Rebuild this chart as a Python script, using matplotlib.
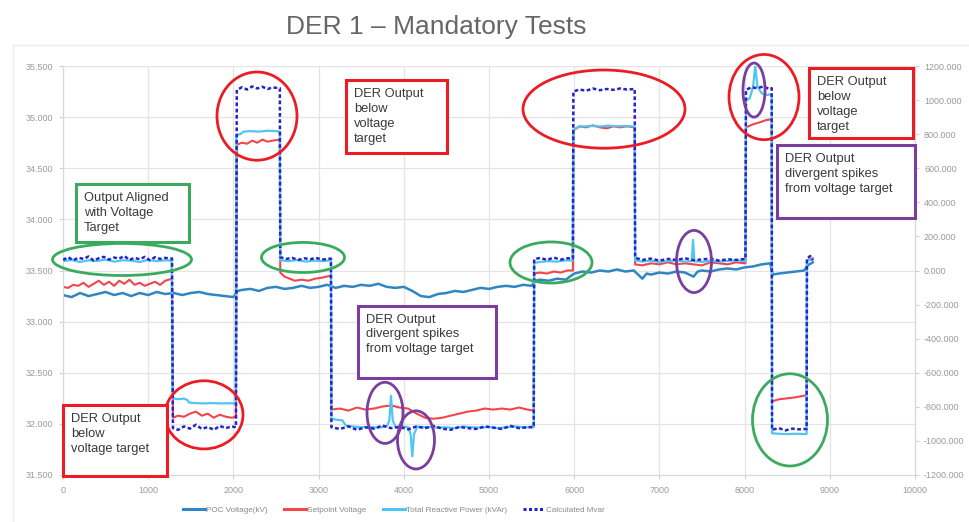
import matplotlib
matplotlib.use("Agg")
import matplotlib.pyplot as plt
from matplotlib.patches import Ellipse, Rectangle
from matplotlib.lines import Line2D

plt.rcParams['font.family'] = ['Liberation Sans', 'DejaVu Sans']

title = "DER 1 \u2013 Mandatory Tests"
series_names = ["POC Voltage(kV)", "Setpoint Voltage", "Total Reactive Power (kVAr)", "Calculated Mvar"]

# ---- POC Voltage (kV), left axis ----
poc_t = [0, 100, 200, 300, 400, 500, 600, 700, 800, 900, 1000, 1100, 1200, 1300, 1400, 1500,
         1600, 1700, 1800, 1900, 2000, 2050, 2100, 2200, 2300, 2400, 2500, 2600, 2700, 2800,
         2900, 3000, 3100, 3200, 3300, 3400, 3500, 3600, 3700, 3800, 3900, 4000, 4100, 4200,
         4300, 4400, 4500, 4600, 4700, 4800, 4900, 5000, 5100, 5200, 5300, 5400, 5500, 5540,
         5600, 5700, 5800, 5900, 6000, 6100, 6200, 6300, 6400, 6500, 6600, 6700, 6750, 6800,
         6850, 6900, 7000, 7100, 7200, 7300, 7400, 7450, 7500, 7600, 7700, 7800, 7900, 8000,
         8100, 8200, 8300, 8330, 8400, 8500, 8600, 8700, 8740, 8800]
poc_v = [33.26, 33.24, 33.28, 33.25, 33.27, 33.29, 33.26, 33.28, 33.25, 33.28, 33.26, 33.29,
         33.27, 33.28, 33.26, 33.28, 33.29, 33.27, 33.26, 33.25, 33.24, 33.30, 33.31, 33.32,
         33.30, 33.33, 33.34, 33.32, 33.33, 33.35, 33.33, 33.34, 33.36, 33.33, 33.35, 33.34,
         33.36, 33.35, 33.37, 33.34, 33.33, 33.34, 33.30, 33.25, 33.24, 33.27, 33.28, 33.30,
         33.29, 33.31, 33.33, 33.32, 33.34, 33.35, 33.34, 33.36, 33.35, 33.40, 33.41, 33.40,
         33.42, 33.41, 33.47, 33.49, 33.48, 33.50, 33.49, 33.51, 33.49, 33.50, 33.46, 33.42,
         33.47, 33.46, 33.48, 33.47, 33.49, 33.48, 33.44, 33.49, 33.50, 33.49, 33.51, 33.52,
         33.51, 33.53, 33.54, 33.56, 33.57, 33.46, 33.47, 33.48, 33.49, 33.50, 33.55, 33.58]

# ---- Setpoint Voltage (kV), left axis ----
sp_t = [0, 60, 120, 180, 240, 300, 360, 420, 480, 540, 600, 660, 720, 780, 840, 900, 960,
        1020, 1080, 1140, 1200, 1280,
        1290, 1350, 1420, 1490, 1560, 1630, 1700, 1770, 1840, 1910, 1980, 2030,
        2040, 2100, 2160, 2220, 2280, 2340, 2400, 2460, 2545,
        2550, 2600, 2660, 2720, 2800, 2880, 2960, 3040, 3145,
        3150, 3250, 3350, 3450, 3550, 3650, 3750, 3850, 3950, 4050, 4150, 4250, 4350, 4450,
        4550, 4650, 4750, 4850, 4950, 5050, 5150, 5250, 5350, 5450, 5525,
        5530, 5600, 5680, 5760, 5840, 5920, 5985,
        5990, 6060, 6140, 6220, 6300, 6380, 6460, 6540, 6620, 6710,
        6715, 6800, 6900, 7000, 7100, 7200, 7300, 7400, 7500, 7600, 7700, 7800, 7900, 8010,
        8016, 8100, 8180, 8250, 8318,
        8322, 8400, 8500, 8600, 8728,
        8732, 8800]
sp_v = [33.34, 33.33, 33.36, 33.35, 33.38, 33.34, 33.37, 33.40, 33.36, 33.39, 33.35, 33.40,
        33.37, 33.41, 33.36, 33.38, 33.35, 33.37, 33.39, 33.36, 33.40, 33.42,
        32.06, 32.08, 32.07, 32.10, 32.12, 32.08, 32.10, 32.06, 32.09, 32.07, 32.06, 32.07,
        34.73, 34.75, 34.74, 34.77, 34.75, 34.78, 34.76, 34.77, 34.78,
        33.48, 33.44, 33.42, 33.40, 33.41, 33.40, 33.42, 33.43, 33.45,
        32.14, 32.15, 32.13, 32.16, 32.14, 32.15, 32.17, 32.18, 32.16, 32.15, 32.10, 32.06,
        32.05, 32.06, 32.08, 32.10, 32.12, 32.13, 32.15, 32.14, 32.15, 32.14, 32.16, 32.14, 32.13,
        33.47, 33.48, 33.47, 33.49, 33.48, 33.50, 33.50,
        34.87, 34.91, 34.90, 34.92, 34.90, 34.89, 34.91, 34.90, 34.91, 34.90,
        33.56, 33.55, 33.57, 33.56, 33.58, 33.56, 33.57, 33.56, 33.55, 33.58, 33.57, 33.56,
        33.58, 33.57,
        34.90, 34.93, 34.95, 34.97, 34.98,
        32.22, 32.24, 32.25, 32.26, 32.28,
        33.60, 33.62]

# ---- Total Reactive Power (kVAr), right axis ----
q_t = [0, 100, 200, 300, 400, 500, 600, 700, 800, 900, 1000, 1100, 1200, 1275,
       1285, 1350, 1420, 1460, 1480, 1550, 1650, 1750, 1850, 1950, 2025,
       2035, 2080, 2120, 2200, 2300, 2400, 2500, 2545,
       2550, 2650, 2750, 2850, 2950, 3050, 3145,
       3150, 3200, 3280, 3320, 3400, 3500, 3600, 3700, 3800, 3830, 3850, 3870, 3900, 3950,
       4000, 4050, 4080, 4100, 4120, 4160, 4200, 4300, 4400, 4500, 4600, 4700, 4800, 4900,
       5000, 5100, 5200, 5300, 5400, 5525,
       5530, 5600, 5700, 5800, 5900, 5980,
       5990, 6040, 6100, 6200, 6300, 6400, 6500, 6600, 6710,
       6715, 6800, 6900, 7000, 7100, 7200, 7300, 7380, 7395, 7410, 7500, 7600, 7700, 7800,
       7900, 8010,
       8016, 8060, 8100, 8125, 8150, 8200, 8260, 8318,
       8322, 8400, 8500, 8600, 8728,
       8732, 8800]
q_v = [55, 62, 50, 60, 56, 64, 52, 60, 58, 50, 62, 55, 60, 58,
       -750, -755, -752, -760, -775, -778, -780, -778, -780, -779, -780,
       795, 800, 815, 818, 815, 820, 818, 815,
       60, 55, 62, 52, 58, 55, 60,
       -870, -875, -880, -910, -915, -920, -918, -922, -915, -880, -735, -880, -915, -920,
       -915, -920, -960, -1090, -960, -915, -920, -918, -922, -920, -925, -915, -920, -922,
       -918, -925, -920, -915, -920, -920,
       45, 50, 55, 52, 60, 58,
       825, 840, 845, 848, 845, 850, 846, 848, 845,
       60, 52, 58, 50, 55, 60, 52, 55, 180, 55, 50, 58, 52, 56, 60, 55,
       1000, 1010, 1080, 1200, 1080, 1040, 1030, 1035,
       -955, -958, -960, -958, -960,
       60, 65]

# ---- Calculated Mvar, right axis ----
m_t = [0, 60, 120, 180, 240, 300, 360, 420, 480, 540, 600, 660, 720, 780, 840, 900, 960,
       1020, 1080, 1140, 1200, 1280,
       1290, 1350, 1420, 1490, 1560, 1630, 1700, 1770, 1840, 1910, 1980, 2030,
       2040, 2100, 2160, 2220, 2280, 2340, 2400, 2460, 2545,
       2550, 2620, 2690, 2760, 2830, 2900, 2970, 3040, 3145,
       3150, 3250, 3350, 3450, 3550, 3650, 3750, 3850, 3950, 4050, 4150, 4250, 4350, 4450,
       4550, 4650, 4750, 4850, 4950, 5050, 5150, 5250, 5350, 5450, 5525,
       5530, 5600, 5680, 5760, 5840, 5920, 5985,
       5990, 6060, 6140, 6220, 6300, 6380, 6460, 6540, 6620, 6710,
       6715, 6800, 6900, 7000, 7100, 7200, 7300, 7400, 7500, 7600, 7700, 7800, 7900, 8010,
       8016, 8080, 8150, 8220, 8290, 8318,
       8322, 8400, 8480, 8560, 8640, 8728,
       8732, 8770, 8800]
m_v = [62, 78, 60, 75, 68, 82, 58, 72, 80, 64, 76, 70, 85, 62, 74, 66, 80, 60, 78, 68, 74, 70,
       -925, -935, -915, -928, -905, -930, -918, -935, -912, -925, -915, -920,
       1060, 1075, 1062, 1080, 1068, 1078, 1065, 1074, 1070,
       78, 68, 74, 62, 72, 66, 74, 64, 70,
       -920, -930, -915, -935, -920, -928, -910, -925, -918, -932, -915, -925, -912, -928,
       -935, -918, -925, -930, -915, -922, -930, -912, -925, -920, -918,
       66, 74, 62, 76, 64, 72, 70,
       1050, 1062, 1055, 1068, 1058, 1065, 1060, 1068, 1062, 1065,
       75, 62, 70, 58, 68, 62, 72, 60, 65, 70, 58, 66, 62, 68,
       1060, 1075, 1070, 1080, 1065, 1070,
       -935, -925, -938, -928, -932, -930,
       70, 85, 60]

x_ticks = [0, 1000, 2000, 3000, 4000, 5000, 6000, 7000, 8000, 9000, 10000]
left_ticks = [31.5, 32.0, 32.5, 33.0, 33.5, 34.0, 34.5, 35.0, 35.5]
right_ticks = [-1200, -1000, -800, -600, -400, -200, 0, 200, 400, 600, 800, 1000, 1200]

# ---- annotation texts ----
note_aligned = "Output Aligned\nwith Voltage\nTarget"
note_below1 = "DER Output\nbelow\nvoltage target"
note_below2 = "DER Output\nbelow\nvoltage\ntarget"
note_spikes = "DER Output\ndivergent spikes\nfrom voltage target"

C_POC = '#2f86c3'
C_SP = '#f2454c'
C_Q = '#4fc6f2'
C_M = '#2424c8'
RED = '#ec1c24'
GREEN = '#3aab5c'
PURPLE = '#7a3e9e'
TICKC = '#9a9a9a'
GRIDC = '#e4e4e4'

fig = plt.figure(figsize=(9.7, 5.22), dpi=100)
ax = fig.add_axes([63/970, 1-475/522, (915-63)/970, (475-66)/522])
ax2 = ax.twinx()

ax.plot(poc_t, poc_v, color=C_POC, lw=1.8, zorder=3)
ax.plot(sp_t, sp_v, color=C_SP, lw=1.5, zorder=2)
ax2.plot(q_t, q_v, color=C_Q, lw=1.6, zorder=2)
ax2.plot(m_t, m_v, color=C_M, lw=1.8, ls=(0, (1.5, 1)), zorder=3)

ax.set_xlim(0, 10000)
ax.set_ylim(31.5, 35.5)
ax2.set_ylim(-1200, 1200)
ax.set_xticks(x_ticks)
ax.set_yticks(left_ticks)
ax2.set_yticks(right_ticks)
ax.set_xticklabels([str(v) for v in x_ticks])
ax.set_yticklabels([f"{v:.3f}" for v in left_ticks])
ax2.set_yticklabels([f"{v:.3f}" for v in right_ticks])
ax.grid(True, color=GRIDC, lw=0.9)
ax.set_axisbelow(True)
for a in (ax, ax2):
    for s in a.spines.values():
        s.set_color('#d8d8d8')
        s.set_linewidth(0.8)
    a.spines['top'].set_visible(False)
ax.tick_params(axis='both', labelsize=6.5, labelcolor=TICKC, color='#d0d0d0', length=3)
ax2.tick_params(axis='y', labelsize=6.5, labelcolor=TICKC, color='#d0d0d0', length=3)
ax.tick_params(axis='y', pad=4)
ax.tick_params(axis='x', pad=5)

# helper: pixel-to-data for annotation placement (left axis data coords)
def px2d(px, py):
    return (px - 63) / 0.0852, 33.5 + (270 - py) / 102.0

ellipses = [
    ((122, 259), 139, 32, GREEN), ((303, 257), 83, 30, GREEN),
    ((204, 414), 78, 68, RED), ((257, 116), 80, 88, RED),
    ((385, 412), 36, 61, PURPLE), ((416, 439), 37, 58, PURPLE),
    ((551, 262), 82, 41, GREEN), ((604, 109), 162, 78, RED),
    ((694, 261), 35, 62, PURPLE), ((764, 97), 70, 85, RED),
    ((754, 90), 22, 54, PURPLE), ((790, 419), 75, 92, GREEN),
]
for (cx, cy), w, h, col in ellipses:
    dx, dy = px2d(cx, cy)
    e = Ellipse((dx, dy), w / 0.0852, h / 102.0, fill=False, edgecolor=col, lw=2.0,
                transform=ax.transData, clip_on=False, zorder=5)
    ax2.add_artist(e)

boxes = [
    ((76, 184, 189, 242), GREEN, note_aligned),
    ((63, 404, 167, 475), RED, note_below1),
    ((346, 80, 447, 153), RED, note_below2),
    ((358, 305, 496, 377), PURPLE, note_spikes),
    ((809, 68, 913, 138), RED, note_below2),
    ((777, 145, 915, 218), PURPLE, note_spikes),
]
for (x0, y0, x1, y1), col, txt in boxes:
    dx0, dy1 = px2d(x0, y1)
    dx1, dy0 = px2d(x1, y0)
    r = Rectangle((dx0, dy1), dx1 - dx0, dy0 - dy1, facecolor='white', edgecolor=col, lw=2.2,
                  transform=ax.transData, clip_on=False, zorder=6)
    ax2.add_artist(r)
    tx, ty = px2d(x0 + 8, y0 + 8)
    ax2.text(tx, ty, txt, transform=ax.transData, ha='left', va='top', fontsize=9.3,
             color='#3a3a3a', linespacing=1.32, zorder=7, clip_on=False)

fig.text(436/970, 1 - 27/522, title, ha='center', va='center', fontsize=19, color='#666666')

handles = [Line2D([], [], color=C_POC, lw=2.2), Line2D([], [], color=C_SP, lw=2.2),
           Line2D([], [], color=C_Q, lw=2.2), Line2D([], [], color=C_M, lw=2.2, ls=(0, (1, 0.8)))]
leg = fig.legend(handles, series_names, loc='center', bbox_to_anchor=(394/970, 1 - 510/522),
                 ncol=4, frameon=False, fontsize=5.9, handlelength=2.7, handletextpad=0.1,
                 columnspacing=2.0)
for t in leg.get_texts():
    t.set_color('#8a8a8a')

# faint outer frame of the original chart
fig.add_artist(Line2D([13/970, 13/970], [0, 1 - 45/522], color='#ececec', lw=1))
fig.add_artist(Line2D([13/970, 1], [1 - 45/522, 1 - 45/522], color='#ececec', lw=1))

fig.savefig('out.png', dpi=100)
